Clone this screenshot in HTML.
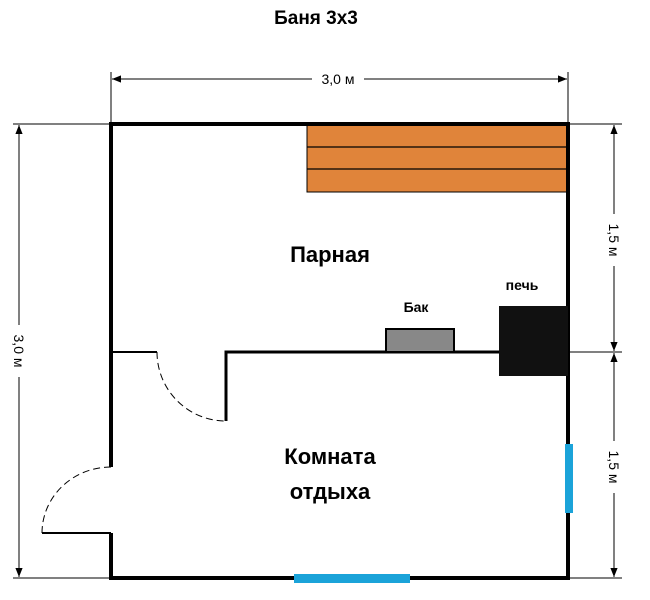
<!DOCTYPE html>
<html><head><meta charset="utf-8"><style>
html,body{margin:0;padding:0;background:#fff;}
svg{display:block;font-family:"Liberation Sans","DejaVu Sans",sans-serif;}
</style></head><body>
<svg width="650" height="600" viewBox="0 0 650 600" xmlns="http://www.w3.org/2000/svg">
<defs>
<marker id="a" viewBox="0 0 10 10" refX="10" refY="5" markerWidth="9" markerHeight="9" orient="auto-start-reverse" markerUnits="userSpaceOnUse"><path d="M0,1 L10,5 L0,9 z" fill="#000"/></marker>
</defs>
<text x="316" y="24" font-size="19" font-weight="bold" text-anchor="middle">Баня 3x3</text>

<line x1="111" y1="72" x2="111" y2="124" stroke="#000" stroke-width="1"/>
<line x1="568" y1="72" x2="568" y2="124" stroke="#000" stroke-width="1"/>
<line x1="112" y1="79" x2="312" y2="79" stroke="#000" stroke-width="1" marker-start="url(#a)"/>
<line x1="364" y1="79" x2="567" y2="79" stroke="#000" stroke-width="1" marker-end="url(#a)"/>
<text x="338" y="84" font-size="14" text-anchor="middle">3,0 м</text>

<line x1="13" y1="124" x2="111" y2="124" stroke="#000" stroke-width="1"/>
<line x1="13" y1="578" x2="111" y2="578" stroke="#000" stroke-width="1"/>
<line x1="19" y1="125" x2="19" y2="325" stroke="#000" stroke-width="1" marker-start="url(#a)"/>
<line x1="19" y1="377" x2="19" y2="577" stroke="#000" stroke-width="1" marker-end="url(#a)"/>
<text transform="translate(14,351) rotate(90)" font-size="14" text-anchor="middle">3,0 м</text>

<line x1="568" y1="124" x2="622" y2="124" stroke="#000" stroke-width="1"/>
<line x1="568" y1="352" x2="622" y2="352" stroke="#000" stroke-width="1"/>
<line x1="568" y1="578" x2="622" y2="578" stroke="#000" stroke-width="1"/>
<line x1="614" y1="125" x2="614" y2="214" stroke="#000" stroke-width="1" marker-start="url(#a)"/>
<line x1="614" y1="266" x2="614" y2="351" stroke="#000" stroke-width="1" marker-end="url(#a)"/>
<text transform="translate(609,240) rotate(90)" font-size="14" text-anchor="middle">1,5 м</text>
<line x1="614" y1="353" x2="614" y2="441" stroke="#000" stroke-width="1" marker-start="url(#a)"/>
<line x1="614" y1="493" x2="614" y2="577" stroke="#000" stroke-width="1" marker-end="url(#a)"/>
<text transform="translate(609,467) rotate(90)" font-size="14" text-anchor="middle">1,5 м</text>

<rect x="307" y="124" width="261" height="68" fill="#e0843a" stroke="#000" stroke-width="1"/>
<line x1="307" y1="147" x2="568" y2="147" stroke="#000" stroke-width="1.2"/>
<line x1="307" y1="169" x2="568" y2="169" stroke="#000" stroke-width="1.2"/>

<path d="M111,467 L111,124 L568,124 L568,578 L111,578 L111,533" fill="none" stroke="#000" stroke-width="4"/>
<line x1="42" y1="533" x2="111" y2="533" stroke="#000" stroke-width="2"/>
<path d="M111,467 A69,66 0 0 0 42,533" fill="none" stroke="#000" stroke-width="1" stroke-dasharray="7,4"/>

<line x1="111" y1="352" x2="157" y2="352" stroke="#000" stroke-width="2"/>
<path d="M226,421 L226,352 L500,352" fill="none" stroke="#000" stroke-width="3"/>
<path d="M157,352 A69,69 0 0 0 224,421" fill="none" stroke="#000" stroke-width="1" stroke-dasharray="7,4"/>

<rect x="386" y="329" width="68" height="23" fill="#888" stroke="#000" stroke-width="2"/>
<rect x="499" y="306" width="69" height="70" fill="#111"/>

<rect x="565" y="444" width="8" height="69" fill="#1ba3d9"/>
<rect x="294" y="574" width="116" height="9" fill="#1ba3d9"/>

<text x="416" y="312" font-size="14" font-weight="bold" text-anchor="middle">Бак</text>
<text x="522" y="290" font-size="14" font-weight="bold" text-anchor="middle">печь</text>
<text x="330" y="262" font-size="22" font-weight="bold" text-anchor="middle">Парная</text>
<text x="330" y="464" font-size="22" font-weight="bold" text-anchor="middle">Комната</text>
<text x="330" y="499" font-size="22" font-weight="bold" text-anchor="middle">отдыха</text>
</svg>
</body></html>
